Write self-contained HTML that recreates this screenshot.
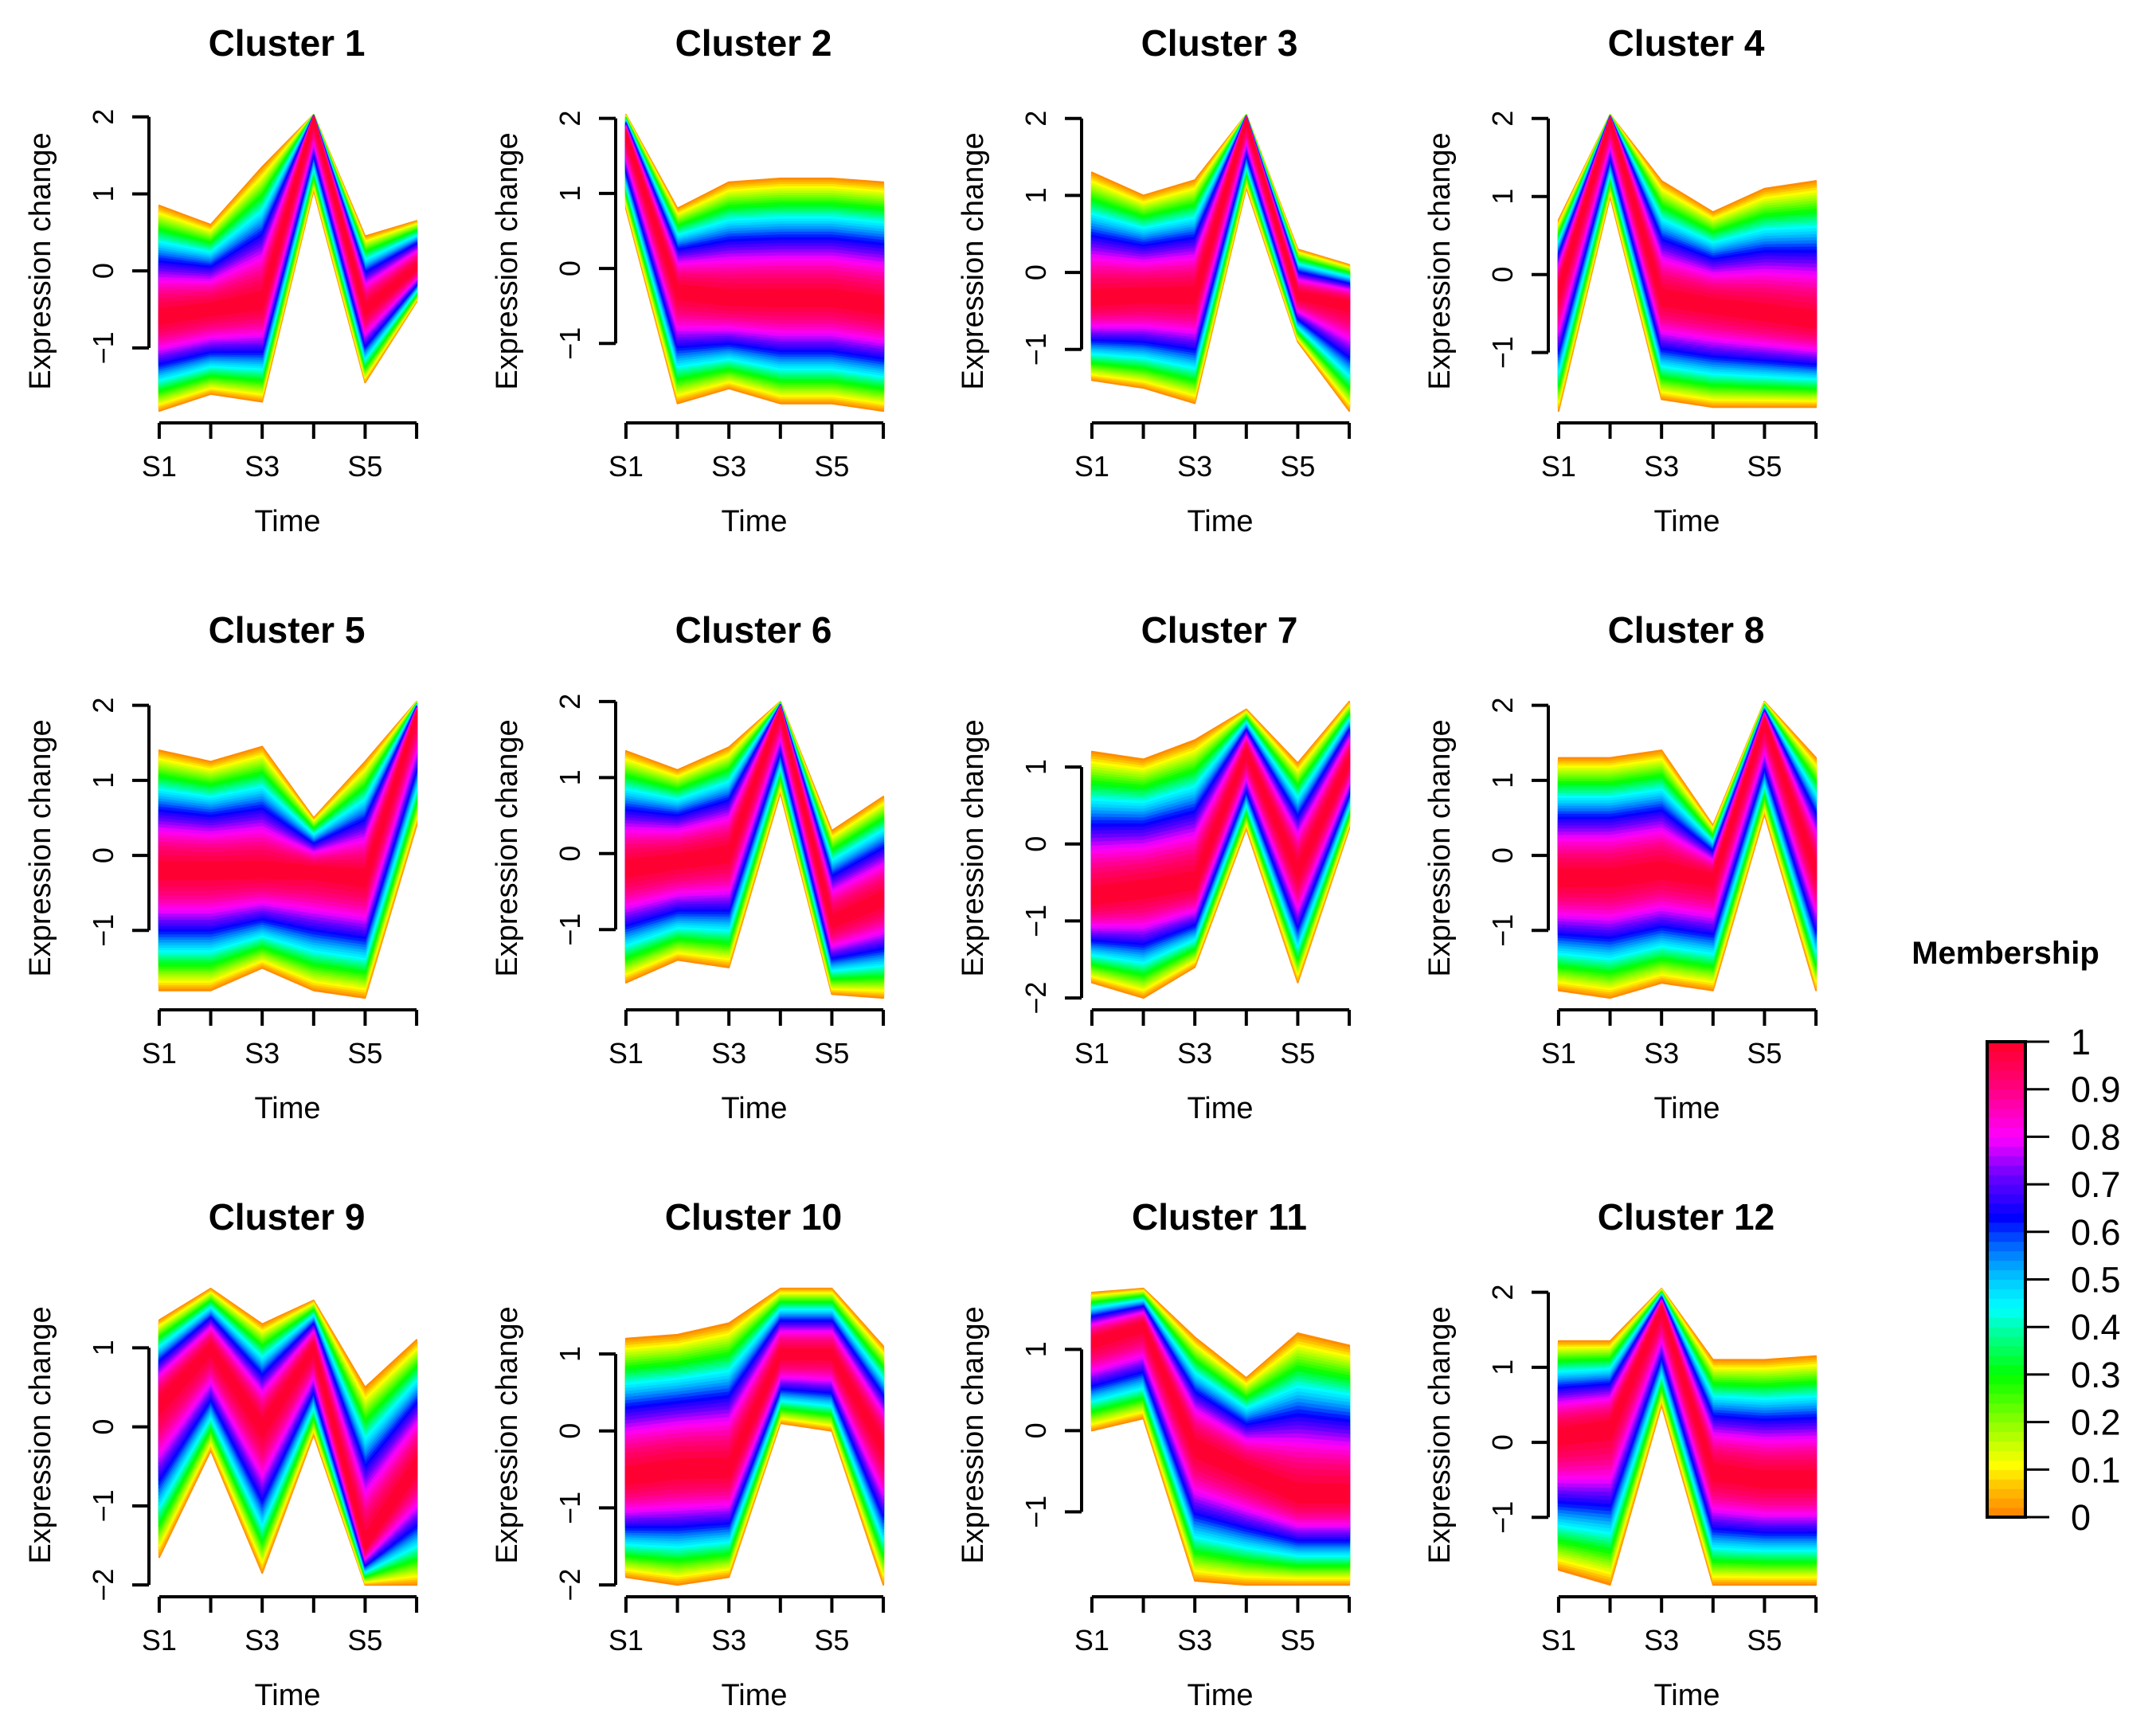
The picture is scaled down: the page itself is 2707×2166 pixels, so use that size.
<!DOCTYPE html>
<html><head><meta charset="utf-8">
<style>
html,body{margin:0;padding:0;background:#fff;}
svg{display:block;font-family:"Liberation Sans",Arial,sans-serif;}
</style></head>
<body>
<svg id="chart" width="2707" height="2166" viewBox="0 0 2707 2166" xmlns="http://www.w3.org/2000/svg">
<rect width="2707" height="2166" fill="#fff"/>
</svg>
<script>
// ---- data ----
const timeLabels = ["S1","S2","S3","S4","S5","S6"];
const shownTickLabels = ["S1","","S3","","S5",""];
const clusterNames = ["Cluster 1","Cluster 2","Cluster 3","Cluster 4","Cluster 5","Cluster 6","Cluster 7","Cluster 8","Cluster 9","Cluster 10","Cluster 11","Cluster 12"];
const centerProfiles = [
 [-0.6,-0.5,-0.4,2.0,-0.5,0.05],
 [1.8,-0.3,-0.4,-0.4,-0.4,-0.5],
 [-0.35,-0.3,-0.3,2.0,-0.3,-0.4],
 [-0.2,2.0,-0.3,-0.4,-0.5,-0.6],
 [-0.2,-0.2,-0.2,-0.2,-0.3,1.9],
 [-0.2,-0.1,0.0,1.9,-0.9,-0.6],
 [-0.7,-0.6,-0.5,1.2,-0.35,1.1],
 [-0.3,-0.3,-0.2,-0.3,1.8,-0.2],
 [0.3,1.0,0.0,1.0,-1.5,-0.5],
 [-0.6,-0.5,-0.5,1.0,1.0,-0.2],
 [1.1,1.3,-0.2,-0.5,-0.8,-0.8],
 [0.1,0.2,1.8,-0.4,-0.5,-0.5]
];
const upperProfiles = [
 [0.85,0.6,1.35,2.03,0.45,0.65],
 [2.05,0.8,1.15,1.2,1.2,1.15],
 [1.3,1.0,1.2,2.05,0.3,0.1],
 [0.7,2.05,1.2,0.8,1.1,1.2],
 [1.4,1.25,1.45,0.5,1.25,2.05],
 [1.35,1.1,1.4,2.0,0.3,0.75],
 [1.2,1.1,1.35,1.75,1.05,1.85],
 [1.3,1.3,1.4,0.4,2.05,1.3],
 [1.35,1.75,1.3,1.6,0.5,1.1],
 [1.2,1.25,1.4,1.85,1.85,1.1],
 [1.7,1.75,1.15,0.65,1.2,1.05],
 [1.35,1.35,2.05,1.1,1.1,1.15]
];
const lowerProfiles = [
 [-1.82,-1.6,-1.7,1.05,-1.45,-0.4],
 [0.8,-1.8,-1.6,-1.8,-1.8,-1.9],
 [-1.4,-1.5,-1.7,1.1,-0.9,-1.8],
 [-1.75,1.0,-1.6,-1.7,-1.7,-1.7],
 [-1.8,-1.8,-1.5,-1.8,-1.9,0.4],
 [-1.7,-1.4,-1.5,0.8,-1.85,-1.9],
 [-1.8,-2.0,-1.6,0.2,-1.8,0.2],
 [-1.8,-1.9,-1.7,-1.8,0.55,-1.8],
 [-1.65,-0.3,-1.85,-0.1,-2.0,-2.0],
 [-1.9,-2.0,-1.9,0.1,0.0,-2.0],
 [0.0,0.15,-1.85,-1.9,-1.9,-1.9],
 [-1.7,-1.9,0.5,-1.9,-1.9,-1.9]
];
const legendTicks = [0,0.1,0.2,0.3,0.4,0.5,0.6,0.7,0.8,0.9,1];
const legendTickLabels = ["0","0.1","0.2","0.3","0.4","0.5","0.6","0.7","0.8","0.9","1"];

// ---- helpers ----
const NS="http://www.w3.org/2000/svg";
const svg=document.getElementById('chart');
function mk(tag,attrs,parent){const e=document.createElementNS(NS,tag);for(const k in attrs)e.setAttribute(k,attrs[k]);(parent||svg).appendChild(e);return e;}
const stops=[[0,[255,128,0]],[0.06,[255,190,0]],[0.11,[255,255,0]],[0.2,[140,255,0]],[0.3,[0,255,0]],[0.38,[0,255,140]],[0.44,[0,255,255]],[0.5,[0,200,255]],[0.56,[0,120,255]],[0.63,[0,0,255]],[0.72,[110,0,255]],[0.8,[255,0,255]],[0.9,[255,0,130]],[1,[255,0,40]]];
function cmap(m){for(let i=1;i<stops.length;i++){if(m<=stops[i][0]){const a=stops[i-1],b=stops[i];const t=(m-a[0])/(b[0]-a[0]);const c=a[1].map((v,j)=>Math.round(v+(b[1][j]-v)*t));return `rgb(${c[0]},${c[1]},${c[2]})`;}}return 'rgb(255,0,40)';}

const colOff=[0,586,1171,1757], rowOff=[0,737,1474];
const PL=187,PR=536,PT=129,PB=531;

clusterNames.forEach((name,ci)=>{
  const ox=colOff[ci%4], oy=rowOff[Math.floor(ci/4)];
  const g=mk('g',{transform:`translate(${ox},${oy})`});
  
  
  const c=centerProfiles[ci],u=upperProfiles[ci],l=lowerProfiles[ci];
  const hi=Math.max(...u,...c), lo=Math.min(...l,...c);
  const xr=5*0.04, yr=(hi-lo)*0.04;
  const X=i=>PL+(i+xr)/(5+2*xr)*(PR-PL);
  const Y=v=>PB-(v-lo+yr)/(hi-lo+2*yr)*(PB-PT);
  const N=40;
  const bands=mk('g',{},g);
  
  
  for(let k=0;k<N;k++){
    const m=k/N, f=Math.pow(1-m,0.7);
    const up=c.map((v,i)=>v+f*(u[i]-v)), dn=c.map((v,i)=>v+f*(l[i]-v));
    let pts=up.map((v,i)=>X(i).toFixed(1)+','+Y(v).toFixed(1));
    pts=pts.concat(dn.map((v,i)=>X(i).toFixed(1)+','+Y(v).toFixed(1)).reverse());
    const col=cmap(m+0.5/N);
    const p=mk('polygon',{points:pts.join(' '),fill:col,stroke:col,'stroke-width':2,'stroke-linejoin':'round'},bands);
    
    
  }
  const t=mk('text',{x:360,y:70,'text-anchor':'middle','font-size':46,'font-weight':'bold'},g);t.textContent=name;
  
  const t0=Math.ceil(lo), t1=Math.floor(hi);
  const ya=mk('line',{x1:PL,x2:PL,y1:Y(t0),y2:Y(t1),stroke:'#000','stroke-width':4},g);
  
  for(let v=t0;v<=t1;v++){
    mk('line',{x1:PL-21,x2:PL,y1:Y(v),y2:Y(v),stroke:'#000','stroke-width':4},g);
    const tl=mk('text',{x:0,y:0,'text-anchor':'middle','font-size':36,transform:`translate(142,${Y(v)}) rotate(-90)`},g);
    tl.textContent=(v<0?'\u2212':'')+Math.abs(v);
    
  }
  const xa=mk('line',{x1:X(0),x2:X(5),y1:PB,y2:PB,stroke:'#000','stroke-width':4},g);
  
  timeLabels.forEach((lab,i)=>{
    mk('line',{x1:X(i),x2:X(i),y1:PB,y2:PB+20,stroke:'#000','stroke-width':4},g);
    if(shownTickLabels[i]){const tl=mk('text',{x:X(i),y:598,'text-anchor':'middle','font-size':36},g);tl.textContent=shownTickLabels[i];
      }
  });
  const xl=mk('text',{x:361,y:667,'text-anchor':'middle','font-size':38},g);xl.textContent='Time';
  
  const yl=mk('text',{x:0,y:0,'text-anchor':'middle','font-size':38,transform:'translate(63,328) rotate(-90)'},g);yl.textContent='Expression change';
  
});

const lg=mk('g',{});


const LX0=2495,LX1=2543,LT=1308,LB=1905;
const lt=mk('text',{x:2518,y:1210,'text-anchor':'middle','font-size':40,'font-weight':'bold'},lg);lt.textContent='Membership';

const NB=50;
for(let k=0;k<NB;k++){
  const y0=LB-(k+1)/NB*(LB-LT), y1=LB-k/NB*(LB-LT);
  mk('rect',{x:LX0,y:y0-0.5,width:LX1-LX0,height:y1-y0+1,fill:cmap((k+0.5)/NB)},lg);
}
const lb=mk('rect',{x:LX0,y:LT,width:LX1-LX0,height:LB-LT,fill:'none',stroke:'#000','stroke-width':4},lg);

legendTicks.forEach((v,i)=>{
  const y=LB-v*(LB-LT);
  mk('line',{x1:LX1,x2:2573,y1:y,y2:y,stroke:'#000','stroke-width':3},lg);
  const tl=mk('text',{x:2600,y:y+16,'font-size':45},lg);tl.textContent=legendTickLabels[i];
  
});
</script>
</body></html>
